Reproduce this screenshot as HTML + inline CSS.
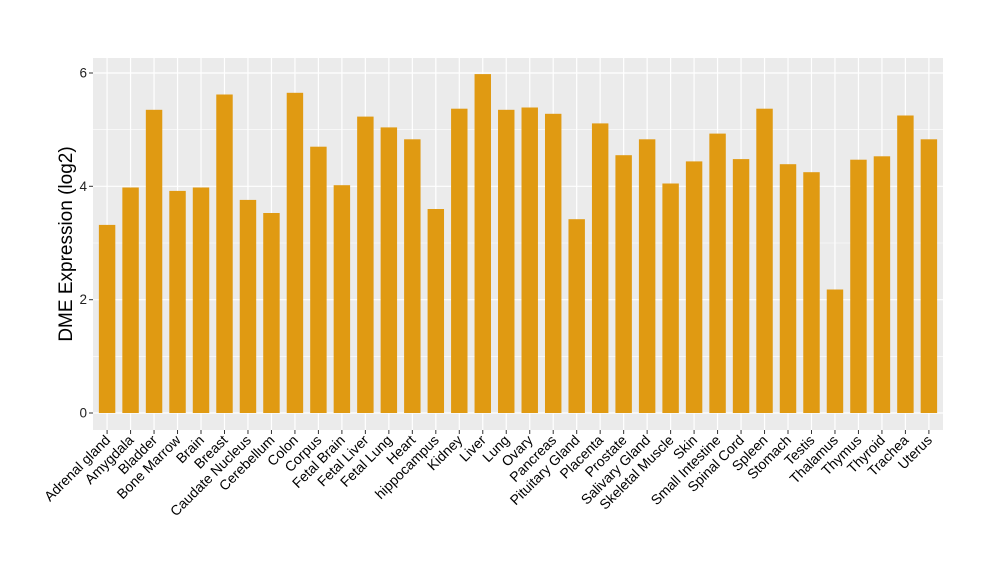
<!DOCTYPE html>
<html><head><meta charset="utf-8"><style>html,body{margin:0;padding:0;background:#fff}</style></head>
<body>
<svg width="1000" height="580" xmlns="http://www.w3.org/2000/svg" font-family="Liberation Sans, sans-serif">
<rect x="0" y="0" width="1000" height="580" fill="#fff"/>
<rect x="93" y="58" width="850" height="372" fill="#EBEBEB"/>
<g stroke="#fff" stroke-width="0.6">
<line x1="93" x2="943" y1="356.3" y2="356.3"/><line x1="93" x2="943" y1="243" y2="243"/><line x1="93" x2="943" y1="129.6" y2="129.6"/>
</g>
<g stroke="#fff" stroke-width="1.2">
<line x1="93" x2="943" y1="413" y2="413"/><line x1="93" x2="943" y1="299.7" y2="299.7"/><line x1="93" x2="943" y1="186.3" y2="186.3"/><line x1="93" x2="943" y1="73" y2="73"/>
<line x1="107.09" x2="107.09" y1="58" y2="430"/><line x1="130.57" x2="130.57" y1="58" y2="430"/><line x1="154.05" x2="154.05" y1="58" y2="430"/><line x1="177.53" x2="177.53" y1="58" y2="430"/><line x1="201.01" x2="201.01" y1="58" y2="430"/><line x1="224.49" x2="224.49" y1="58" y2="430"/><line x1="247.97" x2="247.97" y1="58" y2="430"/><line x1="271.45" x2="271.45" y1="58" y2="430"/><line x1="294.93" x2="294.93" y1="58" y2="430"/><line x1="318.41" x2="318.41" y1="58" y2="430"/><line x1="341.89" x2="341.89" y1="58" y2="430"/><line x1="365.37" x2="365.37" y1="58" y2="430"/><line x1="388.85" x2="388.85" y1="58" y2="430"/><line x1="412.33" x2="412.33" y1="58" y2="430"/><line x1="435.81" x2="435.81" y1="58" y2="430"/><line x1="459.29" x2="459.29" y1="58" y2="430"/><line x1="482.77" x2="482.77" y1="58" y2="430"/><line x1="506.25" x2="506.25" y1="58" y2="430"/><line x1="529.73" x2="529.73" y1="58" y2="430"/><line x1="553.21" x2="553.21" y1="58" y2="430"/><line x1="576.69" x2="576.69" y1="58" y2="430"/><line x1="600.17" x2="600.17" y1="58" y2="430"/><line x1="623.65" x2="623.65" y1="58" y2="430"/><line x1="647.13" x2="647.13" y1="58" y2="430"/><line x1="670.61" x2="670.61" y1="58" y2="430"/><line x1="694.09" x2="694.09" y1="58" y2="430"/><line x1="717.57" x2="717.57" y1="58" y2="430"/><line x1="741.05" x2="741.05" y1="58" y2="430"/><line x1="764.53" x2="764.53" y1="58" y2="430"/><line x1="788.01" x2="788.01" y1="58" y2="430"/><line x1="811.49" x2="811.49" y1="58" y2="430"/><line x1="834.97" x2="834.97" y1="58" y2="430"/><line x1="858.45" x2="858.45" y1="58" y2="430"/><line x1="881.93" x2="881.93" y1="58" y2="430"/><line x1="905.41" x2="905.41" y1="58" y2="430"/><line x1="928.89" x2="928.89" y1="58" y2="430"/>
</g>
<g fill="#E09A12">
<rect x="98.87" y="224.9" width="16.44" height="188.1"/>
<rect x="122.35" y="187.5" width="16.44" height="225.5"/>
<rect x="145.83" y="109.8" width="16.44" height="303.2"/>
<rect x="169.31" y="190.9" width="16.44" height="222.1"/>
<rect x="192.79" y="187.5" width="16.44" height="225.5"/>
<rect x="216.27" y="94.5" width="16.44" height="318.5"/>
<rect x="239.75" y="199.9" width="16.44" height="213.1"/>
<rect x="263.23" y="213.0" width="16.44" height="200.0"/>
<rect x="286.71" y="92.8" width="16.44" height="320.2"/>
<rect x="310.19" y="146.7" width="16.44" height="266.3"/>
<rect x="333.67" y="185.2" width="16.44" height="227.8"/>
<rect x="357.15" y="116.6" width="16.44" height="296.4"/>
<rect x="380.63" y="127.4" width="16.44" height="285.6"/>
<rect x="404.11" y="139.3" width="16.44" height="273.7"/>
<rect x="427.59" y="209.0" width="16.44" height="204.0"/>
<rect x="451.07" y="108.7" width="16.44" height="304.3"/>
<rect x="474.55" y="74.1" width="16.44" height="338.9"/>
<rect x="498.03" y="109.8" width="16.44" height="303.2"/>
<rect x="521.51" y="107.5" width="16.44" height="305.5"/>
<rect x="544.99" y="113.8" width="16.44" height="299.2"/>
<rect x="568.47" y="219.2" width="16.44" height="193.8"/>
<rect x="591.95" y="123.4" width="16.44" height="289.6"/>
<rect x="615.43" y="155.2" width="16.44" height="257.8"/>
<rect x="638.91" y="139.3" width="16.44" height="273.7"/>
<rect x="662.39" y="183.5" width="16.44" height="229.5"/>
<rect x="685.87" y="161.4" width="16.44" height="251.6"/>
<rect x="709.35" y="133.6" width="16.44" height="279.4"/>
<rect x="732.83" y="159.1" width="16.44" height="253.9"/>
<rect x="756.31" y="108.7" width="16.44" height="304.3"/>
<rect x="779.79" y="164.2" width="16.44" height="248.8"/>
<rect x="803.27" y="172.2" width="16.44" height="240.8"/>
<rect x="826.75" y="289.5" width="16.44" height="123.5"/>
<rect x="850.23" y="159.7" width="16.44" height="253.3"/>
<rect x="873.71" y="156.3" width="16.44" height="256.7"/>
<rect x="897.19" y="115.5" width="16.44" height="297.5"/>
<rect x="920.67" y="139.3" width="16.44" height="273.7"/>
</g>
<g stroke="#333">
<line x1="89" x2="93" y1="413" y2="413"/><line x1="89" x2="93" y1="299.7" y2="299.7"/><line x1="89" x2="93" y1="186.3" y2="186.3"/><line x1="89" x2="93" y1="73" y2="73"/>
</g>
<g font-size="13.5" fill="#222" text-anchor="end">
<text x="87" y="417.5">0</text><text x="87" y="304.2">2</text><text x="87" y="190.8">4</text><text x="87" y="77.5">6</text>
</g>
<g font-size="14" fill="#000" text-anchor="end">
<text transform="translate(111.09,441) rotate(-45)">Adrenal gland</text>
<text transform="translate(134.57,441) rotate(-45)">Amygdala</text>
<text transform="translate(158.05,441) rotate(-45)">Bladder</text>
<text transform="translate(181.53,441) rotate(-45)">Bone Marrow</text>
<text transform="translate(205.01,441) rotate(-45)">Brain</text>
<text transform="translate(228.49,441) rotate(-45)">Breast</text>
<text transform="translate(251.97,441) rotate(-45)">Caudate Nucleus</text>
<text transform="translate(275.45,441) rotate(-45)">Cerebellum</text>
<text transform="translate(298.93,441) rotate(-45)">Colon</text>
<text transform="translate(322.41,441) rotate(-45)">Corpus</text>
<text transform="translate(345.89,441) rotate(-45)">Fetal Brain</text>
<text transform="translate(369.37,441) rotate(-45)">Fetal Liver</text>
<text transform="translate(392.85,441) rotate(-45)">Fetal Lung</text>
<text transform="translate(416.33,441) rotate(-45)">Heart</text>
<text transform="translate(439.81,441) rotate(-45)">hippocampus</text>
<text transform="translate(463.29,441) rotate(-45)">Kidney</text>
<text transform="translate(486.77,441) rotate(-45)">Liver</text>
<text transform="translate(510.25,441) rotate(-45)">Lung</text>
<text transform="translate(533.73,441) rotate(-45)">Ovary</text>
<text transform="translate(557.21,441) rotate(-45)">Pancreas</text>
<text transform="translate(580.69,441) rotate(-45)">Pituitary Gland</text>
<text transform="translate(604.17,441) rotate(-45)">Placenta</text>
<text transform="translate(627.65,441) rotate(-45)">Prostate</text>
<text transform="translate(651.13,441) rotate(-45)">Salivary Gland</text>
<text transform="translate(674.61,441) rotate(-45)">Skeletal Muscle</text>
<text transform="translate(698.09,441) rotate(-45)">Skin</text>
<text transform="translate(721.57,441) rotate(-45)">Small Intestine</text>
<text transform="translate(745.05,441) rotate(-45)">Spinal Cord</text>
<text transform="translate(768.53,441) rotate(-45)">Spleen</text>
<text transform="translate(792.01,441) rotate(-45)">Stomach</text>
<text transform="translate(815.49,441) rotate(-45)">Testis</text>
<text transform="translate(838.97,441) rotate(-45)">Thalamus</text>
<text transform="translate(862.45,441) rotate(-45)">Thymus</text>
<text transform="translate(885.93,441) rotate(-45)">Thyroid</text>
<text transform="translate(909.41,441) rotate(-45)">Trachea</text>
<text transform="translate(932.89,441) rotate(-45)">Uterus</text>
</g>
<g stroke="#333">
<line x1="107.09" x2="107.09" y1="430" y2="434"/><line x1="130.57" x2="130.57" y1="430" y2="434"/><line x1="154.05" x2="154.05" y1="430" y2="434"/><line x1="177.53" x2="177.53" y1="430" y2="434"/><line x1="201.01" x2="201.01" y1="430" y2="434"/><line x1="224.49" x2="224.49" y1="430" y2="434"/><line x1="247.97" x2="247.97" y1="430" y2="434"/><line x1="271.45" x2="271.45" y1="430" y2="434"/><line x1="294.93" x2="294.93" y1="430" y2="434"/><line x1="318.41" x2="318.41" y1="430" y2="434"/><line x1="341.89" x2="341.89" y1="430" y2="434"/><line x1="365.37" x2="365.37" y1="430" y2="434"/><line x1="388.85" x2="388.85" y1="430" y2="434"/><line x1="412.33" x2="412.33" y1="430" y2="434"/><line x1="435.81" x2="435.81" y1="430" y2="434"/><line x1="459.29" x2="459.29" y1="430" y2="434"/><line x1="482.77" x2="482.77" y1="430" y2="434"/><line x1="506.25" x2="506.25" y1="430" y2="434"/><line x1="529.73" x2="529.73" y1="430" y2="434"/><line x1="553.21" x2="553.21" y1="430" y2="434"/><line x1="576.69" x2="576.69" y1="430" y2="434"/><line x1="600.17" x2="600.17" y1="430" y2="434"/><line x1="623.65" x2="623.65" y1="430" y2="434"/><line x1="647.13" x2="647.13" y1="430" y2="434"/><line x1="670.61" x2="670.61" y1="430" y2="434"/><line x1="694.09" x2="694.09" y1="430" y2="434"/><line x1="717.57" x2="717.57" y1="430" y2="434"/><line x1="741.05" x2="741.05" y1="430" y2="434"/><line x1="764.53" x2="764.53" y1="430" y2="434"/><line x1="788.01" x2="788.01" y1="430" y2="434"/><line x1="811.49" x2="811.49" y1="430" y2="434"/><line x1="834.97" x2="834.97" y1="430" y2="434"/><line x1="858.45" x2="858.45" y1="430" y2="434"/><line x1="881.93" x2="881.93" y1="430" y2="434"/><line x1="905.41" x2="905.41" y1="430" y2="434"/><line x1="928.89" x2="928.89" y1="430" y2="434"/>
</g>
<text transform="translate(72,244) rotate(-90)" text-anchor="middle" font-size="19" fill="#000">DME Expression (log2)</text>
</svg>
</body></html>
